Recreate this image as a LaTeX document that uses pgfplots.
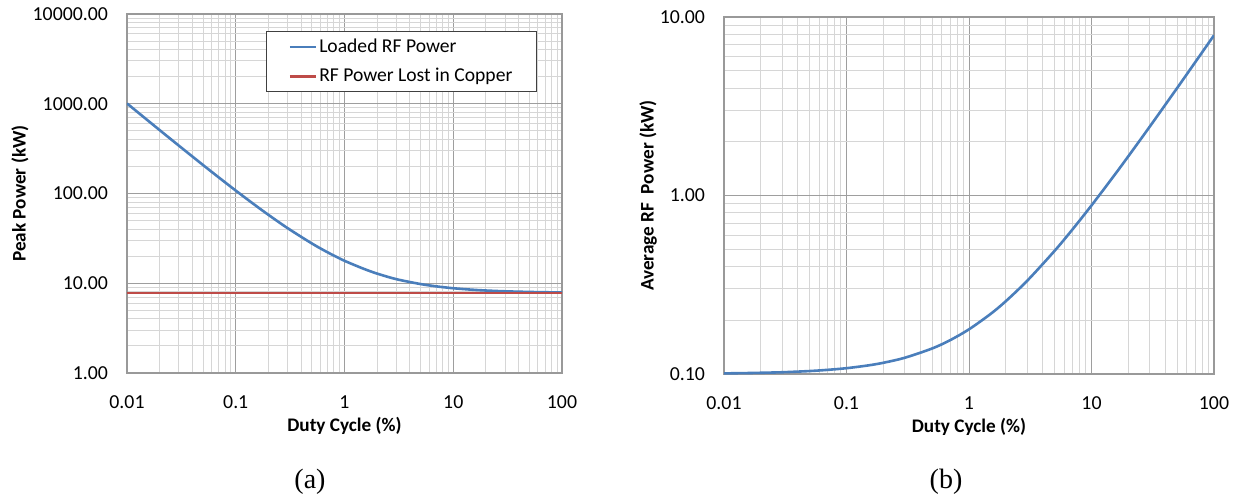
\documentclass[border=0pt]{standalone}
\usepackage{fontspec}
\setmainfont{Carlito}
\newfontfamily\timesfont{Liberation Serif}
\usepackage{pgfplots}
\pgfplotsset{compat=1.18}
\definecolor{xlblue}{HTML}{4A7EBB}
\definecolor{xlred}{HTML}{BE4B48}

\begin{document}
\begin{tikzpicture}
\useasboundingbox (0,0) rectangle (619pt,250pt);

% (a) peak power
\begin{axis}[
    /pgf/number format/assume math mode=true,
    scale only axis, height=179.5pt, width=217.5pt,
    at={(63.5pt,63.5pt)}, anchor=south west,
    xmode=log, ymode=log,
    xmin=0.01, xmax=100, ymin=1, ymax=10000,
    xtick={0.01,0.1,1,10,100}, xticklabels={0.01,0.1,1,10,100},
    minor xtick={0.02,0.03,0.04,0.05,0.06,0.07,0.08,0.09,
                 0.2,0.3,0.4,0.5,0.6,0.7,0.8,0.9,
                 2,3,4,5,6,7,8,9,20,30,40,50,60,70,80,90},
    ytick={1,10,100,1000,10000},
    yticklabels={1.00,10.00,100.00,1000.00,10000.00},
    minor ytick={2,3,4,5,6,7,8,9,20,30,40,50,60,70,80,90,
                 200,300,400,500,600,700,800,900,
                 2000,3000,4000,5000,6000,7000,8000,9000},
    grid=both,
    major grid style={black!38, line width=0.5pt},
    minor grid style={black!16, line width=0.5pt},
    axis line style={black!40, line width=0.6pt},
    major tick length=0pt, minor tick length=0pt,
    tick label style={font=\fontsize{9.9}{11}\selectfont, text=black},
    xticklabel style={yshift=-8pt},
    yticklabel style={xshift=-6pt},
    label style={font=\bfseries\fontsize{9.6}{11}\selectfont},
    xlabel={Duty Cycle (\%)},
    xlabel style={at={(axis description cs:0.5,0)}, anchor=center, yshift=-26.5pt},
    ylabel={Peak Power (kW)},
    ylabel style={at={(axis description cs:0,0.5)}, anchor=center, yshift=53.5pt},
    legend style={at={(rel axis cs:0.9425,0.9526)}, anchor=north east,
        draw=black!75, fill=white, line width=0.6pt,
        font=\fontsize{9.8}{11}\selectfont,
        inner xsep=11pt, inner ysep=1.5pt, row sep=2.5pt,
        nodes={inner xsep=1pt}},
    legend cell align=left,
    legend image code/.code={\draw[#1] (0pt,0pt) -- (13pt,0pt);},
  ]
\addplot[xlblue, line width=1.3pt, smooth] coordinates {
  (0.01,1007.8) (0.015,674.5) (0.02,507.8) (0.03,341.1) (0.05,207.8)
  (0.07,150.7) (0.1,107.8) (0.15,74.5) (0.2,57.8) (0.3,41.1) (0.5,27.8)
  (0.7,22.1) (1,17.8) (1.5,14.5) (2,12.8) (3,11.1) (5,9.8) (7,9.23)
  (10,8.8) (15,8.47) (20,8.3) (30,8.13) (50,8.0) (70,7.94) (100,7.9)};
\addlegendentry{Loaded RF Power}
\addplot[xlred, line width=1.4pt] coordinates {(0.01,7.8) (100,7.8)};
\addlegendentry{RF Power Lost in Copper}
\end{axis}

% (b) average power
\begin{axis}[
    /pgf/number format/assume math mode=true,
    scale only axis, height=178.5pt, width=245pt,
    at={(362pt,63pt)}, anchor=south west,
    xmode=log, ymode=log,
    xmin=0.01, xmax=100, ymin=0.1, ymax=10,
    xtick={0.01,0.1,1,10,100}, xticklabels={0.01,0.1,1,10,100},
    minor xtick={0.02,0.03,0.04,0.05,0.06,0.07,0.08,0.09,
                 0.2,0.3,0.4,0.5,0.6,0.7,0.8,0.9,
                 2,3,4,5,6,7,8,9,20,30,40,50,60,70,80,90},
    ytick={0.1,1,10},
    yticklabels={0.10,1.00,10.00},
    minor ytick={0.2,0.3,0.4,0.5,0.6,0.7,0.8,0.9,2,3,4,5,6,7,8,9},
    grid=both,
    major grid style={black!38, line width=0.5pt},
    minor grid style={black!16, line width=0.5pt},
    axis line style={black!40, line width=0.6pt},
    major tick length=0pt, minor tick length=0pt,
    tick label style={font=\fontsize{9.9}{11}\selectfont, text=black},
    xticklabel style={yshift=-8pt},
    yticklabel style={xshift=-6pt},
    label style={font=\bfseries\fontsize{9.6}{11}\selectfont},
    xlabel={Duty Cycle (\%)},
    xlabel style={at={(axis description cs:0.5,0)}, anchor=center, yshift=-26.5pt},
    ylabel={Average RF\ \ Power (kW)},
    ylabel style={at={(axis description cs:0,0.5)}, anchor=center, yshift=38pt},
  ]
\addplot[xlblue, line width=1.3pt, smooth] coordinates {
  (0.01,0.1008) (0.015,0.1012) (0.02,0.1016) (0.03,0.1023) (0.05,0.1039)
  (0.07,0.1055) (0.1,0.1078) (0.15,0.1117) (0.2,0.1156) (0.3,0.1234)
  (0.5,0.139) (0.7,0.1546) (1,0.178) (1.5,0.217) (2,0.256) (3,0.334)
  (5,0.49) (7,0.646) (10,0.88) (15,1.27) (20,1.66) (30,2.44) (50,4.0)
  (70,5.56) (100,7.9)};
\end{axis}

\node[font=\timesfont\fontsize{14}{16}\selectfont] at (155pt,9pt) {(a)};
\node[font=\timesfont\fontsize{14}{16}\selectfont] at (473pt,9pt) {(b)};
\end{tikzpicture}
\end{document}
